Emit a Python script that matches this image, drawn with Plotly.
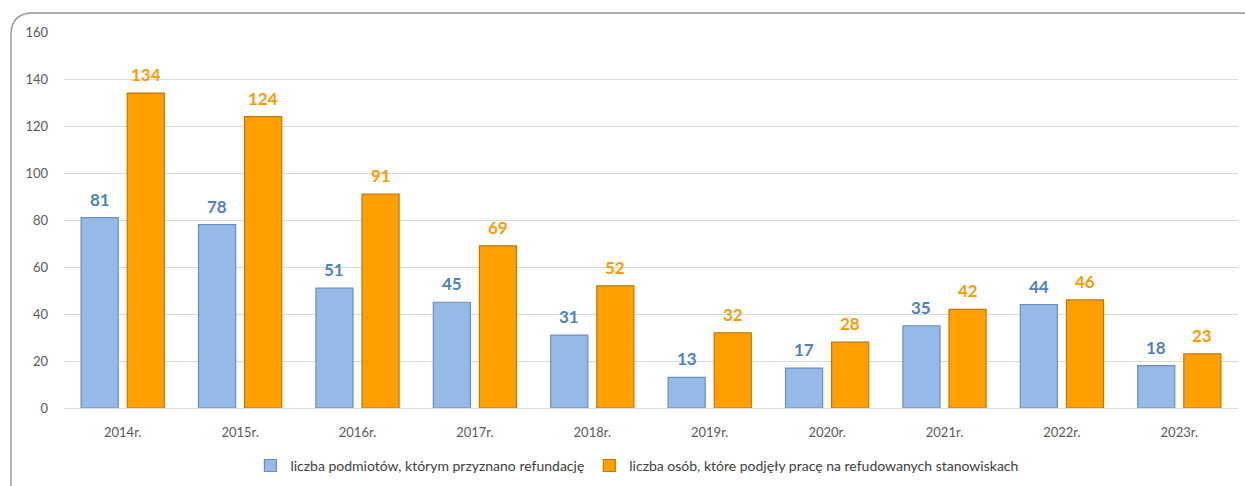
import plotly.graph_objects as go

categories = ["2014r.", "2015r.", "2016r.", "2017r.", "2018r.", "2019r.", "2020r.", "2021r.", "2022r.", "2023r."]
podmioty = [81, 78, 51, 45, 31, 13, 17, 35, 44, 18]
osoby = [134, 124, 91, 69, 52, 32, 28, 42, 46, 23]
name_podmioty = "liczba podmiotów, którym przyznano refundację"
name_osoby = "liczba osób, które podjęły pracę na refudowanych stanowiskach"

W, H = 1245, 486
L, R, T, B = 64, 7, 32, 78
BARGAP, GROUPGAP = 0.215, 0.195
FONT = "Lato, Open Sans, sans-serif"

fig = go.Figure()
fig.add_trace(go.Bar(
    x=categories, y=podmioty, name=name_podmioty,
    marker=dict(color="#95BAE8", line=dict(color="#6A8EC0", width=1.2)),
))
fig.add_trace(go.Bar(
    x=categories, y=osoby, name=name_osoby,
    marker=dict(color="#FFA000", line=dict(color="#C47800", width=1.2)),
))

pw = W - L - R
ph = H - T - B
slot = pw / len(categories) * (1 - BARGAP) / 2
for vals, sign, col in ((podmioty, -1, "#4F81BD"), (osoby, 1, "#FF9A00")):
    for c, v in zip(categories, vals):
        fig.add_annotation(x=c, y=v, text=str(v), showarrow=False,
                           xshift=sign * slot / 2, yshift=6, yanchor="bottom",
                           font=dict(family=FONT, size=17, color=col, weight="bold"))

def px(x):
    return (x - L) / pw
def py(y):
    return (H - B - y) / ph

x0, x1, y0, y1, r = 11, 1262, 13, 506, 22
path = (f"M {px(x0+r)},{py(y0)} L {px(x1-r)},{py(y0)} Q {px(x1)},{py(y0)} {px(x1)},{py(y0+r)} "
        f"L {px(x1)},{py(y1-r)} Q {px(x1)},{py(y1)} {px(x1-r)},{py(y1)} "
        f"L {px(x0+r)},{py(y1)} Q {px(x0)},{py(y1)} {px(x0)},{py(y1-r)} "
        f"L {px(x0)},{py(y0+r)} Q {px(x0)},{py(y0)} {px(x0+r)},{py(y0)} Z")
fig.add_shape(type="path", path=path, xref="paper", yref="paper",
              line=dict(color="#949494", width=1.4), layer="below")

fig.update_layout(
    width=W, height=H,
    margin=dict(l=L, r=R, t=T, b=B, autoexpand=False),
    paper_bgcolor="white", plot_bgcolor="white",
    barmode="group", bargap=BARGAP, bargroupgap=GROUPGAP,
    font=dict(family=FONT, color="#595959"),
    showlegend=True,
    legend=dict(orientation="h", x=0.488, xanchor="center", y=-0.154, yanchor="middle",
                bgcolor="rgba(0,0,0,0)",
                font=dict(size=14, color="#404040"), itemwidth=30,
                traceorder="normal"),
    xaxis=dict(showgrid=False, showline=False, ticks="", automargin=False,
               ticklabelstandoff=15, tickfont=dict(size=13, color="#595959")),
    yaxis=dict(range=[0, 160], dtick=20, showgrid=True, gridcolor="#D9D9D9", gridwidth=1,
               zeroline=True, zerolinecolor="#D9D9D9", zerolinewidth=1, automargin=False,
               showline=False, ticks="", ticklabelstandoff=15, tickfont=dict(size=13, color="#595959")),
)

fig.write_html("out.html", config={"displayModeBar": False},
               post_script="document.body.style.margin='0';")
